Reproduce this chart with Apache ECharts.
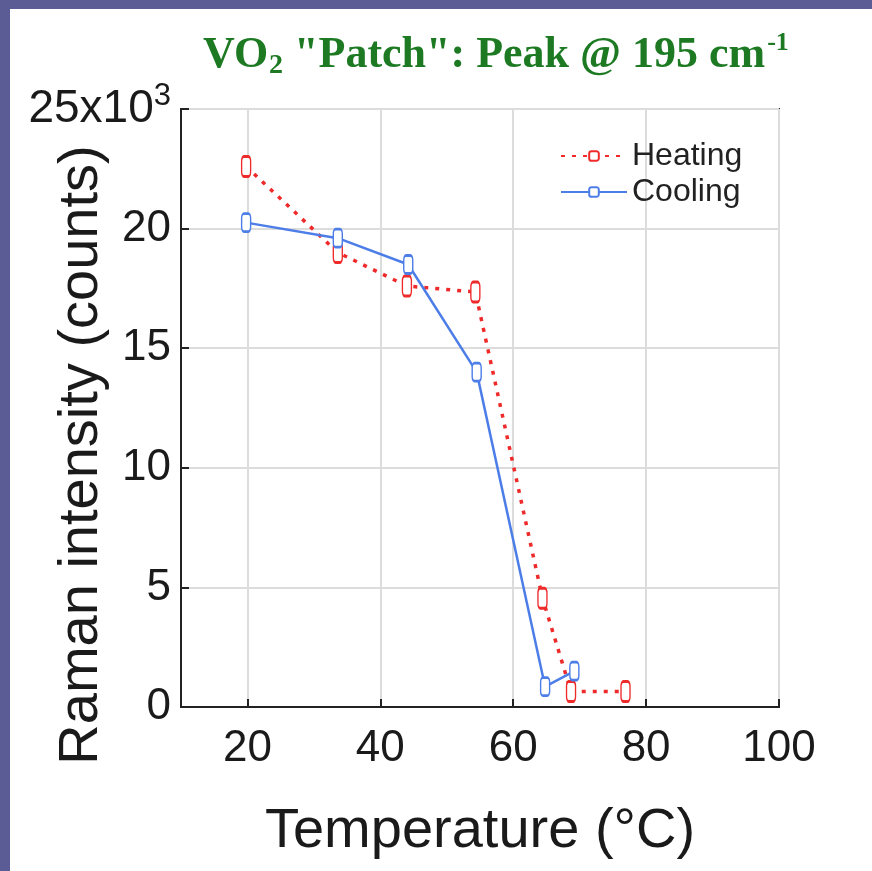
<!DOCTYPE html>
<html>
<head>
<meta charset="utf-8">
<script src="https://cdn.jsdelivr.net/npm/echarts@6/dist/echarts.min.js"></script>
<style>
  html, body { margin: 0; padding: 0; width: 872px; height: 871px; background: #5b5b95; overflow: hidden; }
  #chart { position: absolute; left: 10px; top: 9px; width: 862px; height: 862px; background: #ffffff; }
</style>
</head>
<body>
<div id="chart"></div>
<script>
// ---- data ----
const heatingTemp = [19.8, 33.6, 44.0, 54.3, 64.4, 68.7, 76.9];
const heatingCounts = [22600, 19000, 17600, 17350, 4550, 650, 650];
const coolingTemp = [19.8, 33.6, 44.2, 54.5, 64.8, 69.2];
const coolingCounts = [20250, 19600, 18500, 14000, 850, 1500];
const xTicks = [20, 40, 60, 80, 100];
const seriesNames = ['Heating', 'Cooling'];
const yTitle = 'Raman intensity (counts)';
const xTitle = 'Temperature (°C)';

const zip = (a, b) => a.map((v, i) => [v, b[i]]);

const chart = echarts.init(document.getElementById('chart'), null, { renderer: 'canvas' });
const FONT = 'Liberation Sans, Arial, sans-serif';
const SERIF = 'Liberation Serif, Times New Roman, serif';

chart.setOption({
  animation: false,
  title: {
    text: '{t|VO}{sub|2}{t| "Patch": Peak @ 195 cm}{sup|-1}',
    left: 188,
    top: 16,
    textStyle: {
      rich: {
        t: { fontFamily: SERIF, fontWeight: 'bold', fontSize: 44, color: '#1d7a23' },
        sub: { fontFamily: SERIF, fontWeight: 'bold', fontSize: 28, color: '#1d7a23', padding: [20, 0, 0, 1] },
        sup: { fontFamily: SERIF, fontWeight: 'bold', fontSize: 26, color: '#1d7a23', padding: [0, 0, 26, 2] }
      }
    }
  },
  graphic: [
    {
      type: 'text',
      x: 72,
      y: 446,
      rotation: Math.PI / 2,
      style: {
        text: yTitle,
        fontFamily: FONT,
        fontSize: 56,
        fill: '#1a1a1a',
        align: 'center',
        verticalAlign: 'middle'
      }
    }
  ],
  legend: {
    orient: 'vertical',
    left: 545,
    top: 125,
    itemWidth: 66,
    itemHeight: 12,
    itemGap: 2,
    itemStyle: { borderWidth: 1.5 },
    textStyle: { fontFamily: FONT, fontSize: 32, color: '#222', lineHeight: 34 },
    data: seriesNames
  },
  grid: {
    left: 171, top: 100, width: 598, height: 598,
    containLabel: false,
    outerBoundsMode: 'none',
    show: true, borderColor: '#222', borderWidth: 2, backgroundColor: 'transparent'
  },
  xAxis: {
    type: 'value',
    min: 10, max: 100,
    name: xTitle,
    nameLocation: 'middle',
    nameGap: 97,
    nameTextStyle: { fontFamily: FONT, fontSize: 56, color: '#1a1a1a' },
    axisLine: { show: true, onZero: false, lineStyle: { color: '#222', width: 2 } },
    axisTick: { show: true, inside: true, length: 8, customValues: xTicks, lineStyle: { color: '#222', width: 2 } },
    axisLabel: { customValues: xTicks, fontFamily: FONT, fontSize: 44, color: '#1a1a1a', margin: 20 },
    splitLine: { show: true, customValues: xTicks, lineStyle: { color: '#dcdcdc', width: 2 } }
  },
  yAxis: {
    type: 'value',
    min: 0, max: 25000, interval: 5000,
    axisLine: { show: true, lineStyle: { color: '#222', width: 2 } },
    axisTick: { show: true, inside: true, length: 8, lineStyle: { color: '#222', width: 2 } },
    axisLabel: {
      fontFamily: FONT, fontSize: 44, color: '#1a1a1a', margin: 10,
      formatter: v => v === 25000 ? '{a|25x10}{s|3}' : String(v / 1000),
      rich: {
        a: { fontFamily: FONT, fontSize: 46, color: '#1a1a1a' },
        s: { fontFamily: FONT, fontSize: 31, color: '#1a1a1a', padding: [0, 0, 26, 0] }
      }
    },
    splitLine: { show: true, lineStyle: { color: '#dcdcdc', width: 2 } }
  },
  series: [
    {
      name: seriesNames[0],
      type: 'line',
      data: zip(heatingTemp, heatingCounts),
      symbol: 'emptyRoundRect',
      symbolSize: [9, 20],
      color: '#ee2a2a',
      itemStyle: { color: '#ee2a2a', borderWidth: 1.5 },
      lineStyle: { color: '#ee2a2a', width: 3.5, type: [4, 7] },
      z: 3
    },
    {
      name: seriesNames[1],
      type: 'line',
      data: zip(coolingTemp, coolingCounts),
      symbol: 'emptyRoundRect',
      symbolSize: [9, 18],
      color: '#4d7ee8',
      itemStyle: { color: '#4d7ee8', borderWidth: 1.5 },
      lineStyle: { color: '#4d7ee8', width: 2.5 },
      z: 4
    }
  ]
});
</script>
</body>
</html>
